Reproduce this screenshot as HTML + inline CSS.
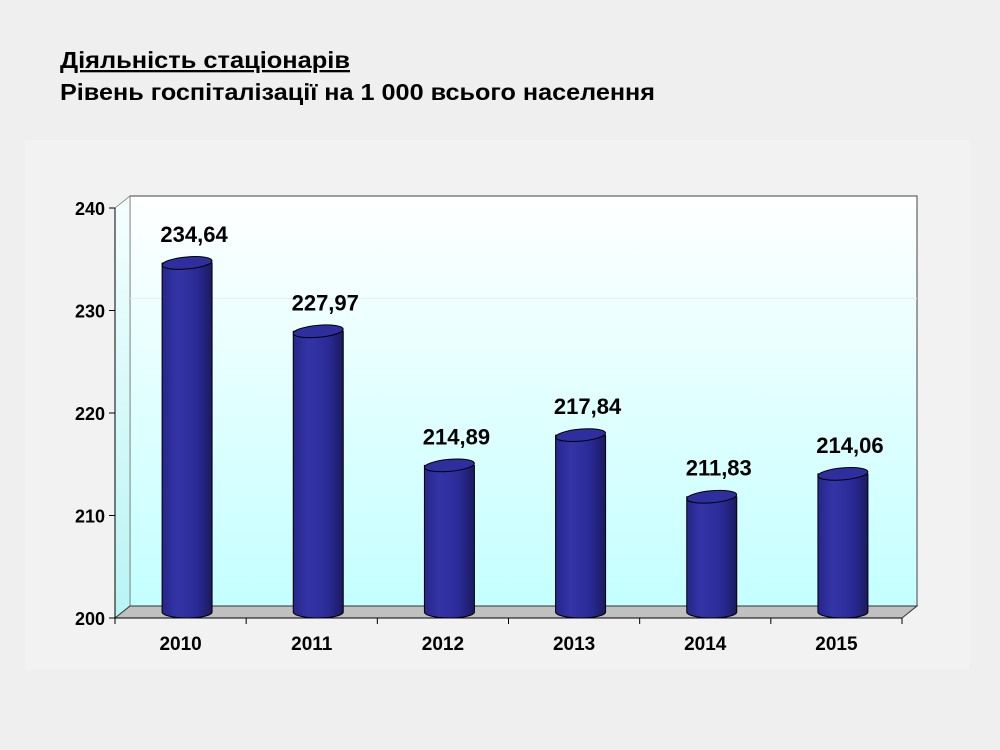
<!DOCTYPE html>
<html><head><meta charset="utf-8"><style>
html,body{margin:0;padding:0;background:#efefef;}
svg{display:block;}
text{font-family:"Liberation Sans",sans-serif;font-weight:bold;}
</style></head><body>
<svg id="c" width="1000" height="750" viewBox="0 0 1000 750">
<defs>
<linearGradient id="wall" x1="0" y1="0" x2="0" y2="1">
<stop offset="0" stop-color="#ffffff"/><stop offset="1" stop-color="#c4ffff"/></linearGradient>
<linearGradient id="lwall" x1="0" y1="0" x2="0" y2="1">
<stop offset="0" stop-color="#f4ffff"/><stop offset="1" stop-color="#b8f4f4"/></linearGradient>
<linearGradient id="cyl" x1="0" y1="0" x2="1" y2="0">
<stop offset="0" stop-color="#26268a"/><stop offset="0.3" stop-color="#3434a8"/><stop offset="0.7" stop-color="#2a2a96"/><stop offset="1" stop-color="#1a1a60"/></linearGradient>
</defs>
<rect x="25" y="140" width="945" height="530" fill="#f2f2f2"/>
<text x="60" y="68" font-size="23" textLength="290" lengthAdjust="spacingAndGlyphs" text-decoration="underline">Діяльність  стаціонарів</text>
<text x="60" y="100" font-size="23" textLength="595" lengthAdjust="spacingAndGlyphs">Рівень госпіталізації на 1 000  всього населення</text>
<g id="plot"></g>
</svg>
<script>
const categories=["2010","2011","2012","2013","2014","2015"];
const values=[234.64,227.97,214.89,217.84,211.83,214.06];
const valueLabels=["234,64","227,97","214,89","217,84","211,83","214,06"];
const yTicks=[200,210,220,230,240];
const NS="http://www.w3.org/2000/svg";
const g=document.getElementById('plot');
const X0=115,X1=902,DX=15,DY=12,BASE=618;
function yAxis(v){return BASE-(v-200)*10.25;}
function bandX(i){return X0+(X1-X0)/categories.length*(i+0.5);}
function mk(t,a,p){const e=document.createElementNS(NS,t);for(const k in a)e.setAttribute(k,a[k]);(p||g).appendChild(e);return e;}
const wall=mk('rect',{x:X0+DX,y:yAxis(240)-DY,width:X1-X0,height:yAxis(200)-yAxis(240),fill:'url(#wall)',stroke:'#444','stroke-width':1});


const lw=mk('polygon',{points:`${X0},${yAxis(240)} ${X0+DX},${yAxis(240)-DY} ${X0+DX},${BASE-DY} ${X0},${BASE}`,fill:'url(#lwall)',stroke:'#777','stroke-width':0.8});


const gl=mk('line',{x1:X0+DX,y1:yAxis(230)-DY,x2:X1+DX,y2:yAxis(230)-DY,stroke:'#e4eeee','stroke-width':1});


const fl=mk('polygon',{points:`${X0},${BASE} ${X0+DX},${BASE-DY} ${X1+DX},${BASE-DY} ${X1},${BASE}`,fill:'#c0c0c0',stroke:'#333','stroke-width':1});


const ya=mk('line',{x1:X0,y1:yAxis(240),x2:X0,y2:BASE,stroke:'#000','stroke-width':1});


const xa=mk('line',{x1:X0,y1:BASE,x2:X1,y2:BASE,stroke:'#000','stroke-width':1});


yTicks.forEach(v=>{const y=yAxis(v);
 mk('line',{x1:X0-6,y1:y,x2:X0,y2:y,stroke:'#000'});
 const t=mk('text',{x:X0-10,y:y+7,'font-size':18,'text-anchor':'end'});t.textContent=v;
 
 });
for(let i=0;i<=categories.length;i++){const x=X0+(X1-X0)/categories.length*i;mk('line',{x1:x,y1:BASE,x2:x,y2:BASE+6,stroke:'#000'});}
const R=25,RY=6;
categories.forEach((c,i)=>{const cx=bandX(i)+DX/2-1,yb=BASE-6,yt=yAxis(values[i]);
 const bar=mk('path',{d:`M${cx-R},${yt} L${cx-R},${yb} A${R},${RY} 0 0 0 ${cx+R},${yb} L${cx+R},${yt} Z`,fill:'url(#cyl)',stroke:'#000','stroke-width':1});
 
 
 const top=mk('ellipse',{cx:cx,cy:yt,rx:R,ry:RY,fill:'#2e2e9e',stroke:'#000','stroke-width':1,transform:`rotate(-5 ${cx} ${yt})`});
 
 
 const vl=mk('text',{x:cx+7,y:yt-21,'font-size':22,'text-anchor':'middle'});vl.textContent=valueLabels[i];
 
 
 const xl=mk('text',{x:bandX(i),y:650,'font-size':19,'text-anchor':'middle'});xl.textContent=c;
 
 
});
</script>
</body></html>
